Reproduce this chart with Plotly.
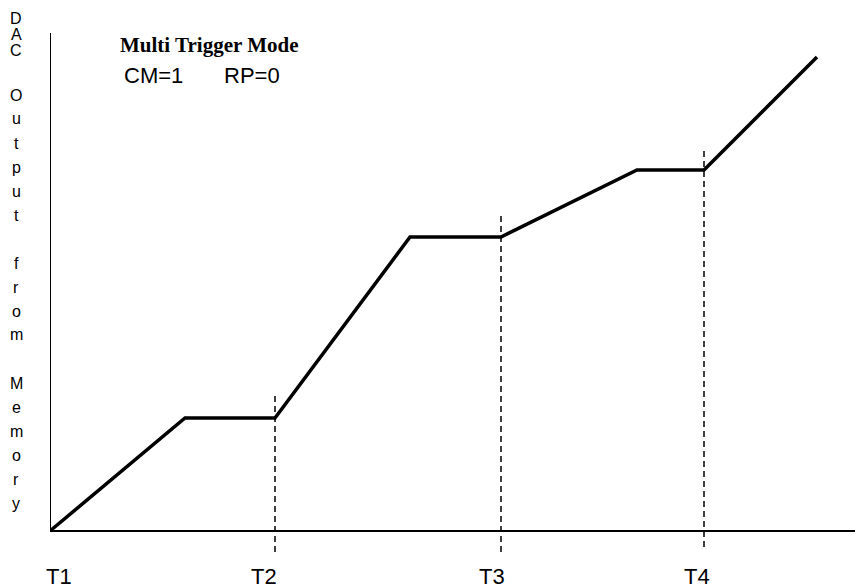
import plotly.graph_objects as go

# ---- data (time in arbitrary units, DAC output in arbitrary units) ----
profile_t = [0, 13.5, 22.5, 36.0, 45.1, 58.7, 65.4, 76.7]
profile_v = [0, 11.3, 11.3, 29.4, 29.4, 36.1, 36.1, 47.4]

trigger_names = ["T2", "T3", "T4"]
trigger_t = [22.5, 45.1, 65.4]
trigger_top = [13.7, 31.8, 38.4]
trigger_bottom = [-2.1, -2.1, -1.6]

tick_labels = ["T1", "T2", "T3", "T4"]
tick_label_t = [0.9, 21.4, 44.2, 64.7]

ylabel_chars = ["D", "A", "C", "", "O", "u", "t", "p", "u", "t", "", "f", "r", "o", "m",
                "", "M", "e", "m", "o", "r", "y"]

x_range = [0, 80.5]
y_range = [-2.2, 49.8]

W, H = 855, 588
ML, MR, MT, MB = 50, 0, 33, 35
PW, PH = W - ML - MR, H - MT - MB


def px_x(px):
    return (px - ML) / PW


def px_y(py):
    return (H - MB - py) / PH


SANS = "Liberation Sans, Arial, sans-serif"
SERIF = "Liberation Serif, Times New Roman, serif"

fig = go.Figure()

# axes drawn as lines derived from the axis ranges
fig.add_trace(go.Scatter(x=[x_range[0], x_range[1]], y=[0, 0], mode="lines",
                         line=dict(color="black", width=2), hoverinfo="skip", showlegend=False))
fig.add_trace(go.Scatter(x=[0, 0], y=[0, y_range[1]], mode="lines",
                         line=dict(color="black", width=2), hoverinfo="skip", showlegend=False))

# dashed trigger markers
for t, top, bot in zip(trigger_t, trigger_top, trigger_bottom):
    fig.add_trace(go.Scatter(x=[t, t], y=[bot, top], mode="lines",
                             line=dict(color="black", width=1.5, dash="6px,4px"),
                             hoverinfo="skip", showlegend=False))

# DAC output profile
fig.add_trace(go.Scatter(x=profile_t, y=profile_v, mode="lines",
                         line=dict(color="black", width=3.5), showlegend=False))

annotations = []
# T labels
for lab, t in zip(tick_labels, tick_label_t):
    annotations.append(dict(x=t, y=px_y(576), xref="x", yref="paper", text=lab,
                            showarrow=False, xanchor="center", yanchor="middle",
                            font=dict(family=SANS, size=22, color="black")))

# vertical y label, one letter per line
ys = [18, 34, 50]
step = 24.0
ys += [None] + [95 + step * k for k in range(len(ylabel_chars) - 4)]
for ch, yy in zip(ylabel_chars, ys):
    if ch == "" or yy is None:
        continue
    annotations.append(dict(x=px_x(16), y=px_y(yy), xref="paper", yref="paper", text=ch,
                            showarrow=False, xanchor="center", yanchor="middle",
                            font=dict(family=SANS, size=16, color="black")))

# title and mode text
annotations.append(dict(x=px_x(118), y=px_y(45), xref="paper", yref="paper",
                        text="<b>Multi Trigger Mode</b>", showarrow=False,
                        xanchor="left", yanchor="middle",
                        font=dict(family=SERIF, size=21, color="black")))
annotations.append(dict(x=px_x(122), y=px_y(75), xref="paper", yref="paper",
                        text="CM=1", showarrow=False, xanchor="left", yanchor="middle",
                        font=dict(family=SANS, size=22, color="black")))
annotations.append(dict(x=px_x(222), y=px_y(75), xref="paper", yref="paper",
                        text="RP=0", showarrow=False, xanchor="left", yanchor="middle",
                        font=dict(family=SANS, size=22, color="black")))

fig.update_layout(
    width=W, height=H,
    margin=dict(l=ML, r=MR, t=MT, b=MB),
    paper_bgcolor="white", plot_bgcolor="white",
    xaxis=dict(range=x_range, visible=False, fixedrange=True),
    yaxis=dict(range=y_range, visible=False, fixedrange=True),
    annotations=annotations,
    showlegend=False,
)

fig.write_html("out.html", config={"displayModeBar": False},
               post_script="document.body.style.margin='0';")
